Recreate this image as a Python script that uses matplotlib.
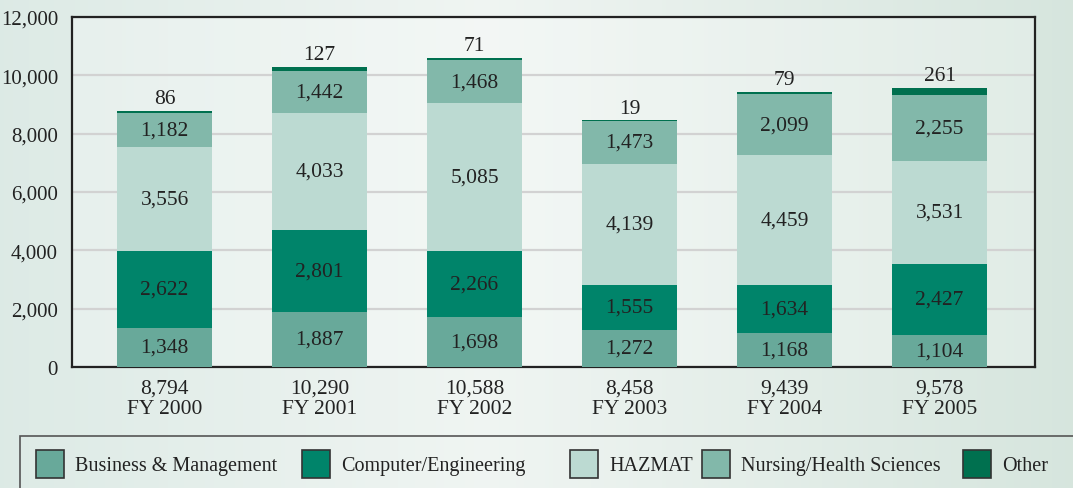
import numpy as np
import matplotlib.pyplot as plt
from matplotlib.patches import Rectangle

# Data
years = ["FY 2000", "FY 2001", "FY 2002", "FY 2003", "FY 2004", "FY 2005"]
business = [1348, 1887, 1698, 1272, 1168, 1104]
computer = [2622, 2801, 2266, 1555, 1634, 2427]
hazmat = [3556, 4033, 5085, 4139, 4459, 3531]
nursing = [1182, 1442, 1468, 1473, 2099, 2255]
other = [86, 127, 71, 19, 79, 261]

names = ["Business & Management", "Computer/Engineering", "HAZMAT",
         "Nursing/Health Sciences", "Other"]
colors = ["#68a99a", "#00846a", "#bcdad2", "#82b8aa", "#00704f"]
series = [business, computer, hazmat, nursing, other]

plt.rcParams['font.family'] = ['Liberation Serif', 'DejaVu Serif']
txt = "#222222"
fs = 15.5

W, H = 1073, 489
fig = plt.figure(figsize=(W / 100, H / 100), dpi=100)

# gradient background
bg = fig.add_axes([0, 0, 1, 1], zorder=-10)
xs = np.linspace(0, 1, 256)
left = np.array([0.85, 0.91, 0.89])
mid = np.array([0.94, 0.96, 0.95])
right = np.array([0.84, 0.90, 0.87])
w = np.abs(xs - 0.45) / 0.55
grad = np.where(xs[:, None] < 0.45,
                left * w[:, None] + mid * (1 - w[:, None]),
                right * w[:, None] + mid * (1 - w[:, None]))
bg.imshow(grad[None, :, :], aspect='auto', extent=[0, 1, 0, 1])
bg.axis('off')

# plot area in pixels: left 72, right 1035, top 18, bottom 368
ax = fig.add_axes([72 / W, 1 - 368 / H, (1035 - 72) / W, (368 - 18) / H])
ax.set_facecolor((1, 1, 1, 0.25))

x = np.arange(len(years))
bw = 0.613
bottom = np.zeros(len(years))
for vals, c in zip(series, colors):
    ax.bar(x, vals, bw, bottom=bottom, color=c, zorder=3)
    bottom += np.array(vals)
totals = bottom

# labels inside segments
base = np.zeros(len(years))
for vals in series[:-1]:
    for i, v in enumerate(vals):
        ax.text(x[i], base[i] + v / 2, f"{v:,}", ha='center', va='center',
                fontsize=fs, color=txt, zorder=4)
    base += np.array(vals)
for i, v in enumerate(other):
    ax.annotate(f"{v:,}", (x[i], totals[i]), xytext=(0, 2),
                textcoords='offset points', ha='center', va='bottom',
                fontsize=fs, color=txt)

ax.set_ylim(0, 12000)
ax.set_xlim(-0.597, 5.616)
ax.set_yticks(np.arange(0, 12001, 2000))
ax.set_yticklabels([f"{v:,}" for v in range(0, 12001, 2000)])
ax.set_xticks(x)
ax.set_xticklabels([f"{int(t):,}\n{y}" for t, y in zip(totals, years)],
                   linespacing=1.15)
ax.tick_params(length=0, labelsize=fs, labelcolor=txt)
ax.tick_params(axis='y', pad=10, labelsize=15)
ax.tick_params(axis='x', pad=8)
ax.yaxis.grid(True, color="#d2d2d2", linewidth=1.6, zorder=0)
ax.set_axisbelow(True)
for s in ax.spines.values():
    s.set_color("#222222")
    s.set_linewidth(1.6)

# legend box, running off the figure edge
fig.patches.append(Rectangle((20 / W, -0.1), 1.1, (1 - 437 / H) + 0.1,
                             transform=fig.transFigure, fill=False,
                             edgecolor="#555555", linewidth=1.2))
patch_x = [36, 302, 570, 702, 963]
for px, name, c in zip(patch_x, names, colors):
    fig.patches.append(Rectangle((px / W, 1 - 479 / H), 28 / W, 28 / H,
                                 transform=fig.transFigure, facecolor=c,
                                 edgecolor="#333333", linewidth=1.2))
    fig.text((px + 39) / W, 1 - 467 / H, name, ha='left', va='center',
             fontsize=14.5, color=txt)

fig.savefig("out.png", dpi=100)
